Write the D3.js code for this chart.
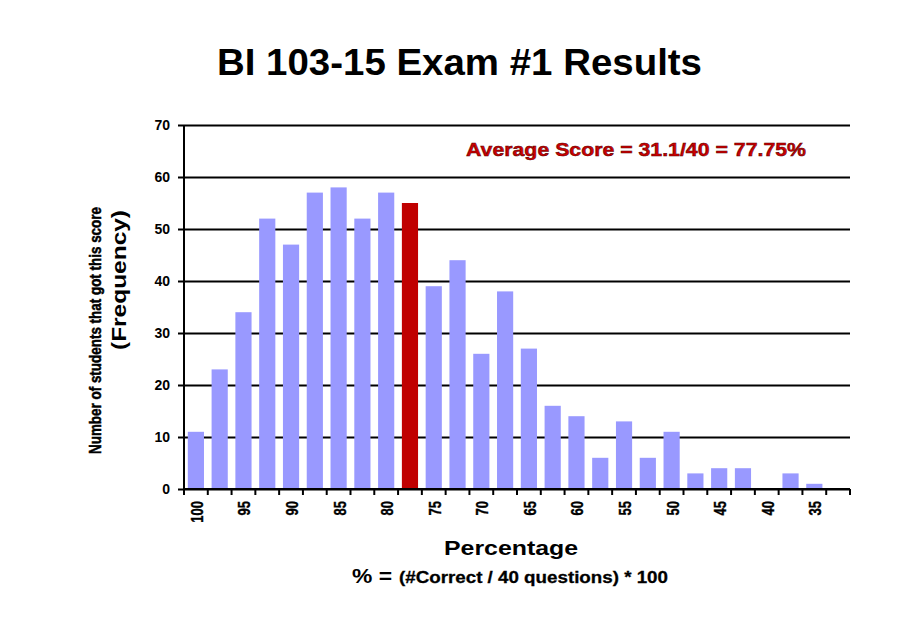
<!DOCTYPE html>
<html>
<head>
<meta charset="utf-8">
<script src="https://cdn.jsdelivr.net/npm/d3@7"></script>
<style>
	body { margin: 0; background: #fff; }
	text { font-family: "Liberation Sans", Arial, sans-serif; font-weight: bold; }
</style>
</head>
<body>
<div id="chart"></div>
<script>

// score buckets (% correct, 40 questions => 2.5% steps)
const categories = ["100","97.5","95","92.5","90","87.5","85","82.5","80","77.5","75","72.5","70","67.5",
	"65","62.5","60","57.5","55","52.5","50","47.5","45","42.5","40","37.5","35","32.5"];
const counts = [11,23,34,52,47,57,58,52,57,55,39,44,26,38,27,16,14,6,13,6,11,3,4,4,0,3,1,0];
const tickLabels = ["100","95","90","85","80","75","70","65","60","55","50","45","40","35"];
const yTicks = [0,10,20,30,40,50,60,70];
const averageBucket = "77.5";

const titleText = "BI 103-15 Exam #1 Results";
const averageText = "Average Score = 31.1/40 = 77.75%";

function buildHistogram(parentID){

	const width = 911, height = 623;
	const plot = {left: 184, right: 850, top: 125, bottom: 489};

	const svg = d3.select(`#${parentID}`).append('svg')
		.attr('width', width)
		.attr('height', height);

	const x = d3.scaleBand()
		.domain(categories)
		.range([plot.left, plot.right])
		.paddingInner(0.32)
		.paddingOuter(0.16);

	const y = d3.scaleLinear()
		.domain([0, 70])
		.range([plot.bottom, plot.top]);

	//gridlines + y labels
	const yAxis = d3.axisLeft(y)
		.tickValues(yTicks)
		.tickSize(-(plot.right - plot.left) - 6)
		.tickPadding(8)
		.tickFormat(d3.format('d'));

	const gy = svg.append('g')
		.attr('transform', `translate(${plot.right},0)`)
		.call(yAxis);
	gy.select('.domain').remove();
	gy.selectAll('.tick line')
		.attr('x1', -(plot.right - plot.left) - 6)
		.attr('x2', 0)
		.attr('stroke', '#000')
		.attr('stroke-width', 2);
	gy.selectAll('.tick text')
		.attr('x', -(plot.right - plot.left) - 14)
		.attr('fill', '#000')
		.style('font-size', '14px');

	//bars
	svg.append('g').selectAll('rect')
		.data(counts)
		.join('rect')
		.attr('x', (d, i) => x(categories[i]))
		.attr('y', d => y(d))
		.attr('width', x.bandwidth())
		.attr('height', d => y(0) - y(d))
		.attr('fill', (d, i) => categories[i] === averageBucket ? '#c00000' : '#9999ff');

	//y axis line
	svg.append('line')
		.attr('x1', plot.left).attr('x2', plot.left)
		.attr('y1', y(70)).attr('y2', plot.bottom + 6)
		.attr('stroke', '#000').attr('stroke-width', 2);

	//x axis: ticks on bucket edges, labels on every other bucket
	const step = x.step();
	svg.append('g').selectAll('line')
		.data(d3.range(categories.length + 1))
		.join('line')
		.attr('x1', i => plot.left + i * step)
		.attr('x2', i => plot.left + i * step)
		.attr('y1', plot.bottom)
		.attr('y2', plot.bottom + 6)
		.attr('stroke', '#000')
		.attr('stroke-width', 2);

	svg.append('line')
		.attr('x1', plot.left).attr('x2', plot.right)
		.attr('y1', plot.bottom).attr('y2', plot.bottom)
		.attr('stroke', '#000').attr('stroke-width', 2);

	svg.append('g').selectAll('text')
		.data(tickLabels)
		.join('text')
		.attr('transform', d => `translate(${x(d) + x.bandwidth() / 2 + 1},501) rotate(-90) scale(1,1.3)`)
		.attr('text-anchor', 'end')
		.attr('dy', '0.35em')
		.attr('stroke', '#000')
		.attr('stroke-width', 0.3)
		.style('font-size', '13px')
		.text(d => d);

	//title
	svg.append('text')
		.attr('x', 217).attr('y', 75)
		.attr('textLength', 485)
		.attr('lengthAdjust', 'spacingAndGlyphs')
		.style('font-size', '36px')
		.text(titleText);

	//average note
	svg.append('text')
		.attr('x', 466).attr('y', 156)
		.attr('textLength', 340)
		.attr('lengthAdjust', 'spacingAndGlyphs')
		.attr('fill', '#cc0000')
		.attr('stroke', '#500')
		.attr('stroke-width', 0.5)
		.style('font-size', '19px')
		.text(averageText);

	//y title (two lines)
	svg.append('text')
		.attr('transform', 'translate(101,207) rotate(-90)')
		.attr('text-anchor', 'end')
		.attr('textLength', 247)
		.attr('lengthAdjust', 'spacingAndGlyphs')
		.attr('stroke', '#000')
		.attr('stroke-width', 0.5)
		.style('font-size', '17px')
		.text('Number of students that got this score');

	svg.append('text')
		.attr('transform', 'translate(126,210) rotate(-90)')
		.attr('text-anchor', 'end')
		.attr('textLength', 140)
		.attr('lengthAdjust', 'spacingAndGlyphs')
		.style('font-size', '20px')
		.text('(Frequency)');

	//x title
	svg.append('text')
		.attr('x', 444).attr('y', 555)
		.attr('textLength', 134)
		.attr('lengthAdjust', 'spacingAndGlyphs')
		.style('font-size', '21px')
		.text('Percentage');

	svg.append('text')
		.attr('x', 352).attr('y', 583)
		.attr('textLength', 40)
		.attr('lengthAdjust', 'spacingAndGlyphs')
		.style('font-size', '21px')
		.text('% =');

	svg.append('text')
		.attr('x', 399).attr('y', 583)
		.attr('textLength', 269)
		.attr('lengthAdjust', 'spacingAndGlyphs')
		.attr('stroke', '#000')
		.attr('stroke-width', 0.3)
		.style('font-size', '17px')
		.text('(#Correct / 40 questions) * 100');
}

buildHistogram('chart');
</script>
</body>
</html>
